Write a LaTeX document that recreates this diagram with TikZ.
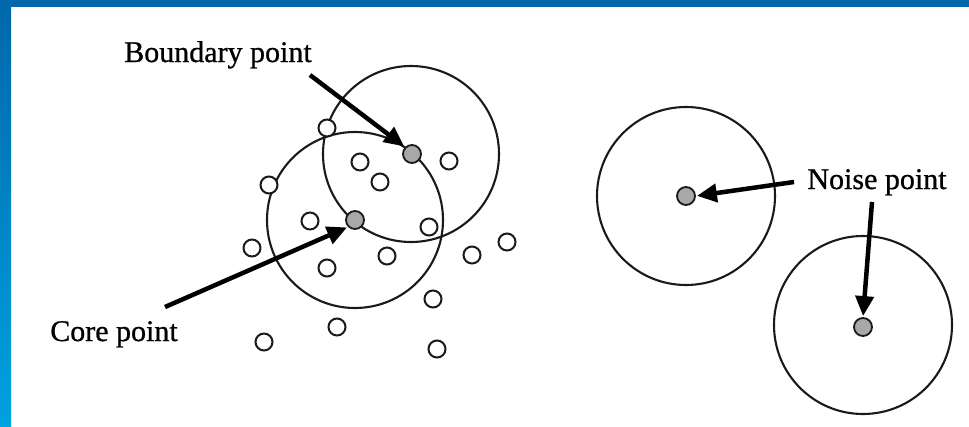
\documentclass[tikz,border=0pt]{standalone}
\usepackage{fontspec}
\setmainfont{Liberation Serif}
\newfontfamily\labelfont[FakeBold=0.8]{Liberation Serif}
\usetikzlibrary{arrows.meta}
\definecolor{frametop}{HTML}{0067AB}
\definecolor{framebot}{HTML}{00A2E0}
\definecolor{ink}{HTML}{1A1A1A}
\definecolor{graypt}{HTML}{A9A7A7}
\tikzset{
  region/.style={draw=ink, line width=2.1pt},
  whitept/.style={circle, draw=ink, line width=2pt, fill=white, minimum size=17pt, inner sep=0pt},
  graypoint/.style={circle, draw=ink, line width=1.8pt, fill=graypt, minimum size=18pt, inner sep=0pt},
  label/.style={font=\labelfont\fontsize{30}{36}\selectfont, text=black, inner sep=0pt, anchor=base},
  pointer/.style={draw=black, line width=4.5pt, -{Triangle[length=20pt,width=18pt]}, shorten >=1pt}
}
\begin{document}
\begin{tikzpicture}[x=1pt,y=-1pt]
\useasboundingbox (0,0) rectangle (969,426);
\fill[white] (0,0) rectangle (969,426);
% frame
\shade[top color=frametop, bottom color=framebot] (0,0) rectangle (11,426);
\fill[frametop] (0,0) rectangle (969,7);
% neighbourhood circles
\draw[region] (411,154) circle (88);
\draw[region] (355,220) circle (88);
\draw[region] (686,196) circle (89);
\draw[region] (863,325) circle (89);
% white points
\foreach \i/\x/\y in {1/327/128,2/269/185,3/360/162,4/380/182,5/449/161,6/310/221,7/429/227,8/252/248,9/327/268,10/387/256,11/472/255,12/507/242,13/433/299,14/337/327,15/264/342,16/437/349}
  \node[whitept] (w\i) at (\x,\y) {};
% gray points
\node[graypoint] (bp) at (412,154) {};
\node[graypoint] (cp) at (355,220) {};
\node[graypoint] (np1) at (686,196) {};
\node[graypoint] (np2) at (863,327) {};
% labels
\node[label] (bl) at (218,62) {Boundary point};
\node[label] (cl) at (114,341) {Core point};
\node[label] (nl) at (877,189) {Noise point};
% arrow start points
\coordinate (bs) at (310,75);
\coordinate (cs) at (165,307);
\coordinate (ns1) at (794,182);
\coordinate (ns2) at (872,202);
\draw[pointer] (bs) -- (bp.north west);
\draw[pointer] (cs) -- (cp.south west);
\draw[pointer] (ns1) -- (np1.east);
\draw[pointer] (ns2) -- (np2.north);
\end{tikzpicture}
\end{document}
